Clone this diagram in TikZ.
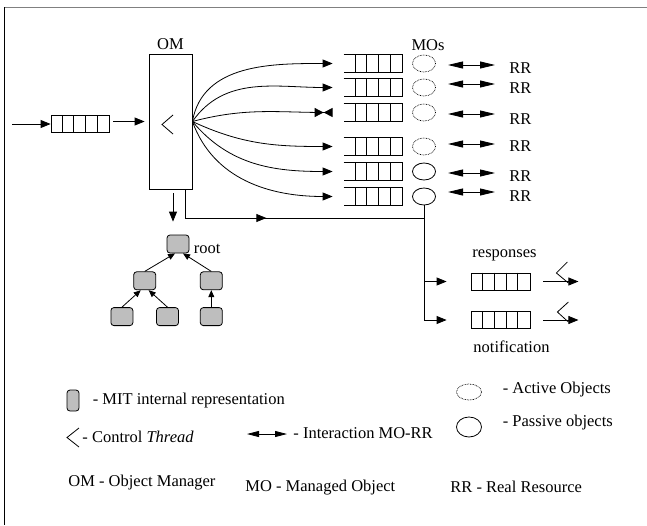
\documentclass[tikz,border=0pt]{standalone}
\usepackage{fontspec}
\setmainfont{Liberation Serif}
\usepackage{xcolor}
\definecolor{cMain}{HTML}{000000}
\definecolor{cFrame}{HTML}{808080}
\definecolor{cNode}{HTML}{BEBEBE}
\usepackage{tikz}
\usetikzlibrary{positioning,arrows.meta,shapes.geometric,decorations.markings}
\tikzset{
  node-om/.style={draw=cMain,minimum width=43pt,minimum height=135pt,inner sep=0pt},
  node-queue/.style={minimum width=58pt,minimum height=17pt,inner sep=0pt},
  node-mit/.style={draw=cMain,fill=cNode,rounded corners=3pt,
    minimum width=22pt,minimum height=18pt,inner sep=0pt},
  node-mo/.style={draw=cMain,ellipse,minimum width=23pt,minimum height=17pt,inner sep=0pt},
  node-active/.style={node-mo,line width=0.7pt,dash pattern=on 0.7pt off 0.9pt},
  node-txt/.style={inner sep=0pt},
  arrow/.style={-{Triangle[length=10pt,width=8pt]},draw=cMain},
  arrow-small/.style={-{Triangle[length=7pt,width=6pt]},draw=cMain},
  arrow-tie/.style={-{Triangle[length=9pt,width=9pt,sep=0pt]Triangle[reversed,length=9pt,width=9pt]},draw=cMain},
  arrow-rr/.style={{Triangle[length=15pt,width=7pt]}-{Triangle[length=15pt,width=7pt]},draw=cMain},
  arrow-rr-small/.style={{Triangle[length=12pt,width=6pt]}-{Triangle[length=12pt,width=6pt]},draw=cMain},
  thread-mark/.style={draw=cMain},
}
\begin{document}
\begin{tikzpicture}[x=1pt,y=-1pt,line width=0.8pt,font=\fontsize{16.5}{19}\selectfont]
  \useasboundingbox (0,0) rectangle (647,525);
  \draw[cFrame] (4,7) -- (647,7);
  \draw (4,7) -- (4,525);
  % object manager and its input queue
  \node[node-om] (om) at (170.5,121.5) {};
  \node[node-txt,above=4pt of om] {OM};
  \draw[thread-mark] (om.center) ++(2.5,-6.5) -- ++(-11,9.5) -- ++(11,9.5);
  \node[node-queue,draw] (inq) at (80,124) {};
  \foreach \k in {1,...,4}
    \draw ([xshift=\k*11.6pt]inq.north west) -- ([xshift=\k*11.6pt]inq.south west);
  \coordinate (src) at (12,124);
  \draw[arrow] (src) -- (inq.west);
  \draw[arrow] ([xshift=4pt]inq.east |- om.east) -- ([xshift=-4pt]om.west);
  % managed objects
  \foreach \i/\qy/\ay/\ry/\ang/\mo/\arr in {
      1/63.5/65/68/80/node-active/arrow,
      2/87.5/84/88/55/node-active/arrow,
      3/112.5/114/119/15/node-active/arrow-tie,
      4/146.5/144/146/-25/node-active/arrow,
      5/171.5/173/176/-50/node-mo/arrow,
      6/196.5/192/196/-70/node-mo/arrow}{
    \node[node-queue] (mq\i) at (373,\qy) {};
    \draw (mq\i.north west) -- (mq\i.north east) -- (mq\i.south east) -- (mq\i.south west);
    \foreach \k in {1,...,4}
      \draw ([xshift=\k*11.6pt]mq\i.north west) -- ([xshift=\k*11.6pt]mq\i.south west);
    \node[\mo] (mo\i) at (424,\qy) {};
    \node[node-txt,anchor=west] (rr\i) at (509,\ry) {RR};
    \coordinate (rra\i) at (448,\ay);
    \draw[arrow-rr,shorten >=14pt] (rra\i) -- (rr\i.west |- rra\i);
    \draw[\arr] (om.east) to[out=\ang,in=180] ([xshift=-11pt]mq\i.west);
  }
  \node[node-txt] at (428,45) {MOs};
  % responses and notifications
  \node[node-queue,draw,minimum width=59pt] (rq) at (500.5,281.5) {};
  \node[node-queue,draw,minimum width=59pt] (nq) at (500.5,320) {};
  \foreach \q in {rq,nq}{
    \foreach \k in {1,...,4}
      \draw ([xshift=\k*11.8pt]\q.north west) -- ([xshift=\k*11.8pt]\q.south west);
    \draw[arrow] ([xshift=13pt]\q.east) -- ([xshift=48pt]\q.east);
  }
  \node[node-txt,above=11pt of rq,xshift=4pt] {responses};
  \node[node-txt,below=12pt of nq,xshift=11pt] {notification};
  \draw[thread-mark] (rq.east) ++(37,-19.5) -- ++(-11,11) -- ++(12,10);
  \draw[thread-mark] (nq.east) ++(38,-18) -- ++(-11,10) -- ++(11,10);
  \coordinate (join) at (424,218);
  \draw[postaction={decorate},decoration={markings,
      mark=at position 0.41 with {\arrow{Triangle[length=10pt,width=8pt]}}}]
    ([xshift=-7pt]om.south east) |- (join);
  \draw (mo6.south) -- (mo6.south |- nq.west);
  \draw[arrow] (mo6.south |- rq.west) -- ([xshift=-24pt]rq.west);
  \draw[arrow] (mo6.south |- nq.west) -- ([xshift=-24pt]nq.west);
  % MIT tree
  \node[node-mit] (root) at (178,244) {};
  \node[node-txt,right=4pt of root,yshift=-5pt] {root};
  \node[node-mit,below left=18pt and 10.5pt of root] (l2a) {};
  \node[node-mit,below right=18pt and 10.5pt of root] (l2b) {};
  \node[node-mit,below left=17pt and 0pt of l2a] (l3a) {};
  \node[node-mit,below right=17pt and 0pt of l2a] (l3b) {};
  \node[node-mit,below=17pt of l2b] (l3c) {};
  \draw[arrow] ([xshift=2.5pt,yshift=-4pt]om.south) -- ([xshift=-5pt,yshift=13pt]root.north);
  \draw[arrow-small] (l2a.north) -- ([xshift=-3pt]root.south);
  \draw[arrow-small] (l2b.north) -- ([xshift=5pt]root.south);
  \draw[arrow-small] (l3a.north) -- ([xshift=-4pt]l2a.south);
  \draw[arrow-small] (l3b.north) -- ([xshift=4pt]l2a.south);
  \draw[arrow-small] (l3c.north) -- (l2b.south);
  % legend
  \node[node-mit,minimum width=12pt,minimum height=21pt] (lmit) at (73,400.5) {};
  \node[node-txt,right=13pt of lmit] {- MIT internal representation};
  \coordinate (lthr) at (67,437.5);
  \draw[thread-mark] ([xshift=12pt,yshift=9.5pt]lthr) -- (lthr) -- ([xshift=12pt,yshift=-9.5pt]lthr);
  \node[node-txt,anchor=west] at (82,437) {- Control \textit{Thread}};
  \coordinate (lrr) at (247,434);
  \node[node-txt,anchor=west] (lint) at (293,433) {- Interaction MO-RR};
  \draw[arrow-rr-small,shorten >=6pt] (lrr) -- (lint.west |- lrr);
  \node[node-active,minimum width=25pt,minimum height=16pt] (lact) at (469,392) {};
  \node[node-txt,right=20.5pt of lact,yshift=2pt] {- Active Objects};
  \node[node-mo,minimum width=25pt,minimum height=20pt] (lpas) at (469,427) {};
  \node[node-txt,right=20.5pt of lpas,yshift=4pt] {- Passive objects};
  \node[node-txt,anchor=west] at (68,483) {OM - Object Manager};
  \node[node-txt,anchor=west] at (245,488) {MO - Managed Object};
  \node[node-txt,anchor=west] at (450,487) {RR - Real Resource};
\end{tikzpicture}
\end{document}
